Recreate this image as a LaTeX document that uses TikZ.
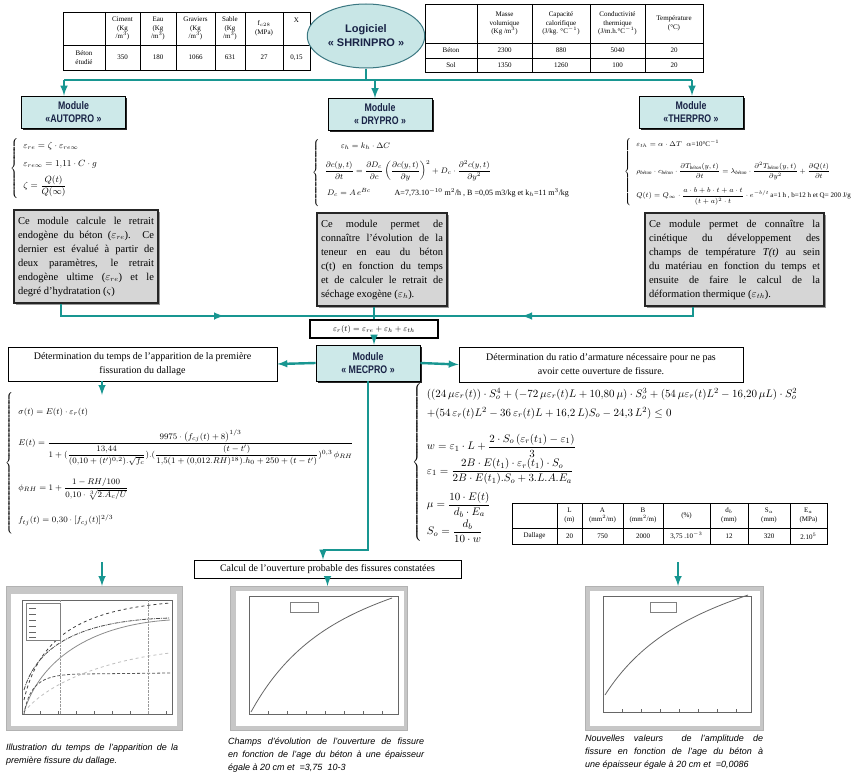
\documentclass[tikz,border=0pt]{standalone}
\usepackage{amsmath}
\usepackage{amssymb}
\usepackage{graphicx}
\usepackage{fontspec}
\setmainfont{Liberation Serif}
\setsansfont{Liberation Sans}
\newfontfamily\narrowfont[FakeStretch=0.8]{Liberation Sans}
\usepackage{tikz}
\usetikzlibrary{calc,arrows,shapes.geometric,shadows}
\definecolor{lnk}{RGB}{24,150,145}
\definecolor{modfill}{RGB}{205,233,233}
\definecolor{modtext}{RGB}{25,35,70}
\definecolor{ellfill}{RGB}{200,230,230}
\definecolor{elldraw}{RGB}{60,120,130}
\definecolor{boxgray}{RGB}{214,214,214}
\tikzset{
  link/.style={draw=lnk, line width=2.4pt},
  arw/.style={link, -latex},
  modbox/.style={draw=black, fill=modfill, line width=0.8pt, minimum width=104, minimum height=32, align=center,
    font=\narrowfont\bfseries\fontsize{11}{13}\selectfont, text=modtext,
    drop shadow={shadow xshift=1.5pt, shadow yshift=-1.5pt, fill=black!85, opacity=1}},
  descbox/.style={draw=black!85, line width=2pt, fill=boxgray, inner sep=4pt, align=justify, minimum height=93,
    font=\fontsize{10.5}{14}\selectfont, drop shadow={shadow xshift=1.5pt, shadow yshift=-1.5pt, fill=black!40, opacity=1}},
  infobox/.style={draw=black, line width=0.6pt, fill=white, align=center, font=\fontsize{10}{14}\selectfont},
  cell/.style={inner sep=0pt, align=center, font=\fontsize{7}{8.6}\selectfont},
  eqn/.style={inner sep=0pt, anchor=north west, font=\fontsize{8}{10}\selectfont},
  capt/.style={inner sep=0pt, anchor=north west, align=justify, font=\sffamily\itshape\fontsize{9}{12.8}\selectfont},
  plotbg/.style={fill=black!22, draw=black!30, anchor=north west, inner sep=0pt, minimum height=144},
  curve/.style={line width=0.8pt}
}
\begin{document}
\begin{tikzpicture}[x=1pt,y=-1pt]
\path[fill=white] (0,0) rectangle (866,776);

\draw[thin] (63,12) rectangle (310,70) (63,45) -- (310,45);
\foreach \x in {105,140,176,215,245,283} \draw[thin] (\x,12) -- (\x,70);
\foreach \x/\txt [count=\i] in {84/{},122.5/{Ciment\\(Kg\\/m$^3$)},158/{Eau\\(Kg\\/m$^3$)},195.5/{Graviers\\(Kg\\/m$^3$)},230/{Sable\\(Kg\\/m$^3$)},264/{f$_{c28}$\\(MPa)}}
  \node[cell] (mixh-\i) at (\x,28.5) {\txt};
\node[cell] (mixh-7) at (296.5,20) {X};
\foreach \x/\txt [count=\i] in {84/{Béton\\étudié},122.5/350,158/180,195.5/1066,230/631,264/27,296.5/{0,15}}
  \node[cell] (mixd-\i) at (\x,57.5) {\txt};

\draw[thin] (425,4) rectangle (703,72) (425,43) -- (703,43) (425,58) -- (703,58);
\foreach \x in {477,532,590,645} \draw[thin] (\x,4) -- (\x,72);
\foreach \x/\txt [count=\i] in {504.5/{Masse\\volumique\\(Kg /m$^3$)},561/{Capacité\\calorifique\\(J/kg. °C$^{-1}$)},617.5/{Conductivité\\thermique\\(J/m.h.°C$^{-1}$)},674/{Température\\(°C)}}
  \node[cell] (thh-\i) at (\x,23.5) {\txt};
\foreach \x/\txt [count=\i] in {451/Béton,504.5/2300,561/880,617.5/5040,674/20}
  \node[cell] (thb-\i) at (\x,50.5) {\txt};
\foreach \x/\txt [count=\i] in {451/Sol,504.5/1350,561/1260,617.5/100,674/20}
  \node[cell] (ths-\i) at (\x,65) {\txt};

\node[draw=elldraw, fill=ellfill, ellipse, line width=1pt, minimum width=104, minimum height=64, align=center,
      font=\sffamily\bfseries\fontsize{11}{14}\selectfont, text=modtext] (shr) at (366,36) {Logiciel\\« SHRINPRO »};

\coordinate (tl) at (64,80);
\coordinate (td) at (375,80);
\coordinate (tr) at (692,80);
\draw[link] (tl) -- (tr);
\draw[link] (shr.south) -- (shr.south |- tl);

\node[modbox] (auto) at (73.5,112) {Module\\«AUTOPRO »};
\node[modbox] (dry) at (380,114.5) {Module\\« DRYPRO »};
\node[modbox] (ther) at (691,112) {Module\\«THERPRO »};
\draw[arw] (tl) -- (tl |- auto.north);
\draw[arw] (td) -- (td |- dry.north);
\draw[arw] (tr) -- (tr |- ther.north);

\node[eqn, font=\fontsize{9}{11}\selectfont] (eqa) at (10,137) {$\left\{\begin{array}{l}
  \rule{0pt}{11pt}\varepsilon_{re}=\zeta\cdot\varepsilon_{re\infty}\\[7pt]
  \varepsilon_{re\infty}=1{,}11\cdot C\cdot g\\[6pt]
  \zeta=\dfrac{Q(t)}{Q(\infty)}\rule[-12pt]{0pt}{12pt}
  \end{array}\right.$};
\node[eqn] (eqd) at (312,138) {$\left\{\begin{array}{l}
  \rule{0pt}{10pt}\qquad\varepsilon_h=k_h\cdot\Delta C\\[9pt]
  \dfrac{\partial c(y,t)}{\partial t}=\dfrac{\partial D_c}{\partial c}\left(\dfrac{\partial c(y,t)}{\partial y}\right)^{2}+D_c\cdot\dfrac{\partial^2c(y,t)}{\partial y^2}\\[12pt]
  \;D_c=A\,e^{Bc}\qquad\quad\text{A=7,73.10$^{-10}$ m$^2$/h , B =0,05 m3/kg et k$_h$=11 m$^3$/kg}\rule[-12pt]{0pt}{12pt}
  \end{array}\right.$};
\node[eqn, font=\fontsize{7}{9}\selectfont] (eqt) at (624,136) {$\left\{\begin{array}{l}
  \rule{0pt}{10pt}\varepsilon_{th}=\alpha\cdot\Delta T\;\;\alpha\text{=10°C$^{-1}$}\\[13pt]
  \rho_{\text{\itshape béton}}\cdot c_{\text{\itshape béton}}\cdot\dfrac{\partial T_{\text{\itshape béton}}(y,t)}{\partial t}=\lambda_{\text{\itshape béton}}\cdot\dfrac{\partial^2T_{\text{\itshape béton}}(y,t)}{\partial y^2}+\dfrac{\partial Q(t)}{\partial t}\\[12pt]
  Q(t)=Q_\infty\cdot\dfrac{a\cdot b+b\cdot t+a\cdot t}{(t+a)^2\cdot t}\cdot e^{-b/t}\,\text{a=1 h , b=12 h et Q= 200 J/g}\rule[-10pt]{0pt}{10pt}
  \end{array}\right.$};

\node[descbox, text width=136] (txa) at (86,256.5) {Ce module calcule le retrait\linebreak endogène du béton ($\varepsilon_{re}$). Ce\linebreak dernier est évalué à partir de\linebreak deux paramètres, le retrait\linebreak endogène ultime ($\varepsilon_{re}$) et le\linebreak degré d'hydratation ($\varsigma$)};
\node[descbox, text width=122] (txd) at (382,259.5) {Ce module permet de\linebreak connaître l'évolution de la\linebreak teneur en eau du béton\linebreak c(t) en fonction du temps\linebreak et de calculer le retrait de\linebreak séchage exogène ($\varepsilon_h$).};
\node[descbox, text width=171] (txt) at (734.5,259.5) {Ce module permet de connaître la\linebreak cinétique du développement des\linebreak champs de température \textit{T(t)} au sein\linebreak du matériau en fonction du temps et\linebreak ensuite de faire le calcul de la\linebreak déformation thermique ($\varepsilon_{th}$).};

\coordinate (bl) at (61,316);
\coordinate (bm) at (374,316);
\coordinate (br) at (693,316);
\coordinate (bla) at (224,316);
\coordinate (bra) at (522,316);
\node[draw, line width=1.2pt, fill=white, minimum width=128, minimum height=18, font=\fontsize{8}{9}\selectfont] (frm) at (374,329) {$\varepsilon_r(t)=\varepsilon_{re}+\varepsilon_h+\varepsilon_{th}$};
\draw[link] (txa.south -| bl) -- (bl) -- (br) -- (txt.south -| br);
\draw[link] (txd.south -| bm) -- (bm) -- (frm.north -| bm);
\draw[arw] (bl) -- (bla);
\draw[arw] (br) -- (bra);

\node[modbox, minimum height=36] (mec) at (368,363) {Module\\« MECPRO »};
\draw[arw] (frm.south) -- (frm.south |- mec.north);
\node[infobox, minimum width=269, minimum height=34] (dtl) at (142.5,364) {Détermination du temps de l'apparition de la première\\fissuration du dallage};
\node[infobox, minimum width=284, minimum height=35] (dtr) at (601,364.5) {Détermination du ratio d'armature nécessaire pour ne pas\\avoir cette ouverture de fissure.};
\draw[arw] (mec.west) -- (dtl.east);
\draw[arw] (mec.east) -- (dtr.west);
\coordinate (la) at (102,395);
\draw[arw] (dtl.south -| la) -- (la);

\node[eqn] (eql) at (5,391) {\scalebox{1.05}{$\left\{\begin{array}{l}
  \rule{0pt}{22pt}\sigma(t)=E(t)\cdot\varepsilon_r(t)\\[12pt]
  E(t)=\dfrac{9975\cdot\bigl(f_{cj}(t)+8\bigr)^{1/3}}{1+(\dfrac{13{,}44}{(0{,}10+(t')^{0{,}2}).\sqrt{f_c}}).(\dfrac{(t-t')}{1{,}5(1+(0{,}012.RH)^{18}).h_0+250+(t-t')})^{0{,}3}\,\phi_{RH}}\\[28pt]
  \phi_{RH}=1+\dfrac{1-RH/100}{0{,}10\cdot\sqrt[3]{2.A_c/U}}\\[20pt]
  f_{tj}(t)=0{,}30\cdot\left[f_{cj}(t)\right]^{2/3}\rule[-12pt]{0pt}{12pt}
  \end{array}\right.$}};
\node[eqn, font=\fontsize{10.95}{13}\selectfont] (eqr) at (412,383) {$\left\{\begin{array}{l}
  \rule{0pt}{14pt}((24\,\mu\varepsilon_r(t))\cdot S_o^4+(-72\,\mu\varepsilon_r(t)L+10{,}80\,\mu)\cdot S_o^3+(54\,\mu\varepsilon_r(t)L^2-16{,}20\,\mu L)\cdot S_o^2\\[6pt]
  +(54\,\varepsilon_r(t)L^2-36\,\varepsilon_r(t)L+16{,}2\,L)S_o-24{,}3\,L^2)\le 0\\[14pt]
  w=\varepsilon_1\cdot L+\dfrac{2\cdot S_o\,(\varepsilon_r(t_1)-\varepsilon_1)}{3}\\[5pt]
  \varepsilon_1=\dfrac{2B\cdot E(t_1)\cdot\varepsilon_r(t_1)\cdot S_o}{2B\cdot E(t_1).S_o+3.L.A.E_a}\\[14pt]
  \mu=\dfrac{10\cdot E(t)}{d_b\cdot E_a}\\[8pt]
  S_o=\dfrac{d_b}{10\cdot w}\rule[-6pt]{0pt}{6pt}
  \end{array}\right.$};

\draw[thin] (512,503) rectangle (827,544) (512,528) -- (827,528);
\foreach \x in {557,582,623,663,710,748,790} \draw[thin] (\x,503) -- (\x,544);
\foreach \x/\txt [count=\i] in {569.5/{L\\(m)},602.5/{A\\(mm$^2$/m)},643/{B\\(mm$^2$/m)},686.5/{(\%)},729/{d$_b$\\(mm)},769/{S$_a$\\(mm)},808.5/{E$_a$\\(MPa)}}
  \node[cell] (dalh-\i) at (\x,515.5) {\txt};
\foreach \x/\txt [count=\i] in {534.5/Dallage,569.5/20,602.5/750,643/2000,686.5/{3,75 .10$^{-3}$},729/12,769/320,808.5/{2.10$^5$}}
  \node[cell] (dald-\i) at (\x,536) {\txt};

\node[infobox, minimum width=267, minimum height=18, font=\fontsize{10}{12}\selectfont] (calc) at (327.5,569) {Calcul de l'ouverture probable des fissures constatées};
\coordinate (elb) at (323,550);
\draw[link] (mec.south) |- (elb);
\draw[arw] (elb) -- (elb |- calc.north);

\node[plotbg, minimum width=176] (gph1) at (6,586) {};
\node[plotbg, minimum width=177] (gph2) at (230,586) {};
\node[plotbg, minimum width=178] (gph3) at (585,586) {};
\coordinate (ga) at (102,562);
\coordinate (gc) at (678,562);
\draw[arw] (ga) -- (ga |- gph1.north);
\draw[arw] (calc.south) -- (calc.south |- gph2.north);
\draw[arw] (gc) -- (gc |- gph3.north);

\fill[white] (11,594) rectangle (177,726);
\draw[black!60] (22,600) rectangle (172,714);
\foreach \x in {22,40,...,172} \draw[black!60] (\x,714) -- (\x,711);
\draw[curve, black!75, dashed] (24,700) .. controls (40,630) and (90,610) .. (170,603);
\draw[curve, black!70, dash pattern=on 4pt off 1pt on 1pt off 1pt] (24,690) .. controls (40,635) and (100,620) .. (170,618);
\draw[curve, black!45] (24,712) .. controls (40,660) and (90,625) .. (170,620);
\draw[curve, black!25, dashed] (24,712) .. controls (50,680) and (110,660) .. (170,653);
\draw[curve, black!65, densely dashed] (24,714) .. controls (30,680) and (45,675) .. (80,674) -- (170,673);
\draw[black!40, densely dotted] (60,600) -- (60,714) (148,600) -- (148,714);
\draw[black!50, fill=white] (26,603) rectangle (60,640);
\foreach \y in {608,614,620,626,632,637} \draw[black!60] (29,\y) -- (36,\y);

\fill[white] (236,591) rectangle (404,726);
\draw[black!60] (249,596) rectangle (398,714);
\foreach \x in {249,268,...,398} \draw[black!60] (\x,714) -- (\x,711);
\draw[black!50] (290,602) rectangle (318,612);
\draw[curve, black!60] (251,712) .. controls (285,650) and (330,620) .. (392,598);

\fill[white] (590,591) rectangle (760,726);
\draw[black!60] (603,596) rectangle (751,712);
\foreach \x in {603,622,...,751} \draw[black!60] (\x,712) -- (\x,709);
\draw[black!50] (650,602) rectangle (676,612);
\draw[curve, black!60] (605,695) .. controls (640,640) and (690,615) .. (748,595);

\node[capt, text width=172] (cap1) at (6,744) {Illustration du temps de l'apparition de la\linebreak première fissure du dallage.};
\node[capt, text width=196] (cap2) at (228,738) {Champs d'évolution de l'ouverture de fissure\linebreak en fonction de l'age du béton à une épaisseur\linebreak égale à 20 cm et \ =3,75 \ 10-3};
\node[capt, text width=178] (cap3) at (585,735) {Nouvelles valeurs \ de l'amplitude de\linebreak fissure en fonction de l'age du béton à\linebreak une épaisseur égale à 20 cm et \ =0,0086};
\end{tikzpicture}
\end{document}
